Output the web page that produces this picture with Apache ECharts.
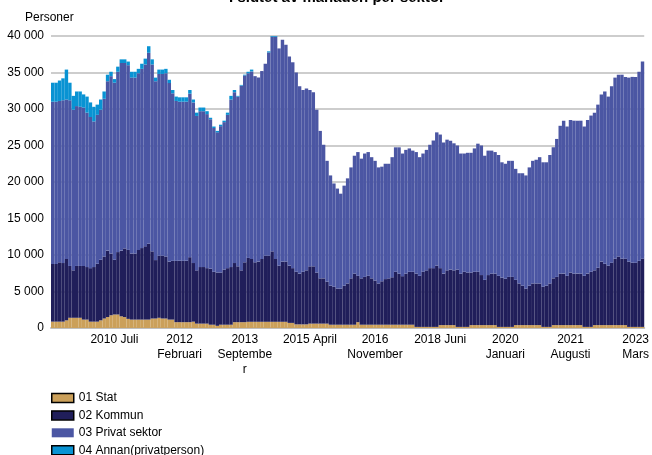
<!DOCTYPE html>
<html><head><meta charset="utf-8">
<script src="https://cdn.jsdelivr.net/npm/echarts@6/dist/echarts.min.js"></script>
<style>html,body{margin:0;padding:0;background:#fff}#c{width:652px;height:455px}</style>
</head><body><div id="c"></div>
<script>
const monthNames = ['Januari','Februari','Mars','April','Maj','Juni','Juli','Augusti','September','Oktober','November','December'];
const startYear = 2009;
const monthCount = 173;
const categories = [];
for (let i = 0; i < monthCount; i++) {
  categories.push((startYear + Math.floor(i / 12)) + ' ' + monthNames[i % 12]);
}
const tickLabels = {
  '2010 Juli': '2010 Juli',
  '2012 Februari': '2012\nFebruari',
  '2013 September': '2013\nSeptembe\nr',
  '2015 April': '2015 April',
  '2016 November': '2016\nNovember',
  '2018 Juni': '2018 Juni',
  '2020 Januari': '2020\nJanuari',
  '2021 Augusti': '2021\nAugusti',
  '2023 Mars': '2023\nMars'
};
const seriesNames = ['01 Stat','02 Kommun','03 Privat sektor','04 Annan(privatperson)'];

const stat = [870,870,870,870,1050,1400,1400,1400,1400,1150,
1150,870,870,870,1050,1300,1500,1750,1850,1850,
1600,1500,1250,1150,1150,1150,1150,1150,1150,1300,
1300,1400,1300,1300,1150,1150,800,800,800,800,
800,870,600,600,600,600,450,450,300,450,
450,450,450,800,800,800,800,850,850,850,
850,850,850,850,850,850,850,850,850,700,
700,500,500,500,500,600,600,600,600,600,
600,450,450,450,450,450,450,450,450,800,
450,450,450,450,450,450,450,450,450,450,
450,450,450,450,450,450,150,150,150,150,
150,150,150,400,400,400,400,400,150,150,
150,150,400,400,400,400,400,400,400,400,
150,150,150,150,150,400,400,400,400,400,
400,400,400,150,150,150,400,400,400,400,
400,400,400,400,400,150,150,150,400,400,
400,400,400,400,400,400,400,400,150,150,
150,150,150];

const kommun = [7900,7900,8130,8030,8400,7100,6500,7100,7100,7350,
7200,7330,7480,7930,8300,8500,9100,8450,7500,8550,
9000,9400,9450,9050,9050,9550,9800,10050,10400,9200,
8000,8500,8600,8500,7950,8050,8400,8400,8400,8400,
8900,8030,7300,7750,7750,7600,7650,7250,7300,7150,
7550,7750,7900,8100,7650,7100,8200,8750,8600,8150,
8250,8600,9050,9050,9650,8600,7700,8250,8250,7850,
7500,7200,6950,7200,7400,7850,7850,7000,6200,6200,
5750,5350,5200,4950,4950,5350,5650,6350,7000,6350,
6350,6550,6700,6350,6050,5650,5950,6250,6350,6500,
7250,7000,6650,7000,7250,7250,7300,7000,7550,7750,
8050,8050,8400,7800,7050,7500,7600,7500,7850,7300,
7550,7450,7200,7300,7300,6850,6200,6850,7050,7050,
7000,6750,6600,6850,6850,6200,5700,5400,5000,5400,
5700,5700,5700,5500,5650,5950,6400,6600,7050,7050,
6750,7200,7050,7050,7050,7000,7300,7550,7500,7850,
8700,8400,8150,8550,9100,9400,9100,9100,8950,8800,
8800,9050,9350];

const privat = [22230,22230,22100,22300,21850,22700,22000,21900,21800,21700,
21150,20700,19950,20400,20550,21600,23200,24300,24250,24700,
25700,25400,25300,24100,24100,24200,24550,24900,26150,25600,
24500,24900,24900,25100,24450,22950,21900,21800,21800,21800,
22400,22000,21150,21350,21350,21100,20500,19700,19200,20050,
20200,21000,22950,23400,23250,25300,25600,25300,25700,25500,
25200,25750,26300,27850,29400,30450,29750,30400,29700,28650,
28200,27300,25650,24900,24900,24150,23850,22300,20200,18300,
16550,15100,14150,13700,13000,13700,14400,15200,16150,16950,
16400,16900,16950,16600,16400,15900,15700,15800,15700,16450,
17050,17300,16800,16950,16900,16600,16650,16250,16200,16500,
16900,17500,18250,18300,17950,17900,17650,17400,17000,16450,
16200,16400,16400,16900,17550,17750,17000,17050,16850,16650,
16550,15800,15750,15900,15900,15200,15100,15400,15500,16200,
16800,16950,17300,17050,16900,17600,17950,18900,20250,20950,
20450,20900,20950,20950,20950,20450,21050,21400,21600,22350,
22900,23600,23150,24150,24800,24900,25200,24900,25200,25450,
25450,25900,27000];

const annan = [2600,2600,2800,3000,4100,2400,1900,2000,2100,1800,
2200,2000,2000,1400,1400,1000,900,600,500,700,
500,500,500,800,800,600,700,800,900,700,
500,600,600,600,450,450,600,600,600,600,
500,400,450,500,500,400,200,200,200,200,
200,300,500,300,100,100,100,200,250,0,
0,0,0,150,100,100,0,0,0,0,
0,0,0,0,0,0,0,0,0,0,
0,0,0,0,0,0,0,0,0,0,
0,0,0,0,0,0,0,0,0,0,
0,0,0,0,0,0,0,0,0,0,
0,0,0,0,0,0,0,0,0,0,
0,0,0,0,0,0,0,0,0,0,
0,0,0,0,0,0,0,0,0,0,
0,0,0,0,0,0,0,0,0,0,
0,0,0,0,0,0,0,0,0,0,
0,0,0,0,0,0,0,0,0,0,
0,0,0];

const colors = ['#cba05a','#201e5a','#4b56a3','#0993d3'];
const FONT = '"Liberation Sans", Arial, sans-serif';
const chart = echarts.init(document.getElementById('c'), null, {renderer: 'canvas'});
const fmt = v => String(v).replace(/\B(?=(\d{3})+(?!\d))/g, ' ');
const bordered = {borderColor: '#000', borderWidth: 1.5};
chart.setOption({
  animation: false,
  textStyle: {fontFamily: FONT},
  grid: {left: 51, right: 7, top: 36, bottom: 127},
  xAxis: {
    type: 'category', data: categories,
    axisTick: {show: false},
    axisLine: {lineStyle: {color: '#bfbfbf', width: 2}},
    axisLabel: {
      interval: i => i >= 18 && (i - 18) % 19 === 0,
      formatter: v => tickLabels[v] || v,
      color: '#000', fontSize: 12, lineHeight: 15, margin: 4, fontFamily: FONT
    }
  },
  yAxis: {
    type: 'value', min: 0, max: 40000, interval: 5000,
    axisLine: {show: false}, axisTick: {show: false},
    splitLine: {lineStyle: {color: '#cdcdcd', width: 2}},
    axisLabel: {formatter: fmt, color: '#000', fontSize: 12, margin: 7, fontFamily: FONT}
  },
  legend: {
    orient: 'vertical', left: 51, top: 392, height: 120, padding: 0,
    itemWidth: 22, itemHeight: 9, itemGap: 5.4, icon: 'rect',
    textStyle: {fontSize: 12, color: '#000', fontFamily: FONT},
    data: [
      {name: seriesNames[0], itemStyle: bordered},
      {name: seriesNames[1], itemStyle: bordered},
      {name: seriesNames[2]},
      {name: seriesNames[3], itemStyle: bordered}
    ]
  },
  graphic: [
    {type: 'text', style: {text: 'I slutet av månaden per sektor', x: 337, y: -2, align: 'center', verticalAlign: 'middle', fontSize: 15, fontWeight: 'bold', fontFamily: FONT, fill: '#000'}},
    {type: 'text', style: {text: 'Personer', x: 25, y: 18, align: 'left', verticalAlign: 'middle', fontSize: 12, fontFamily: FONT, fill: '#000'}}
  ],
  series: [stat, kommun, privat, annan].map((d, k) => ({
    name: seriesNames[k], type: 'bar', stack: 'tot', data: d,
    barCategoryGap: '0%',
    itemStyle: {color: colors[k]},
    emphasis: {disabled: true}
  }))
});
</script></body></html>
